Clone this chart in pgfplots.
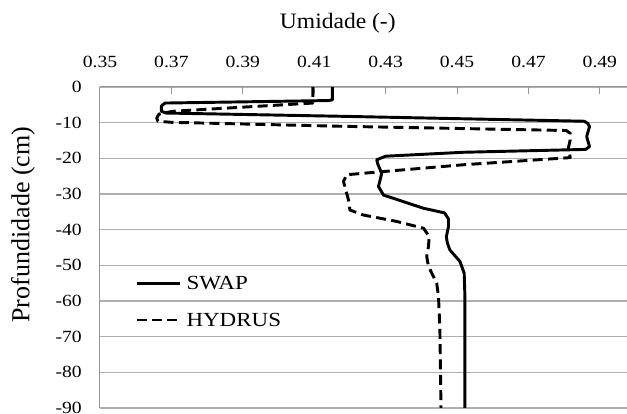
\documentclass[border=0pt]{standalone}
\usepackage{fontspec}
\setmainfont{Liberation Serif}
\usepackage{pgfplots}
\pgfplotsset{compat=1.18}
\definecolor{axisgray}{RGB}{150,150,150}
\definecolor{gridgray}{RGB}{175,175,175}
\pgfplotsset{
  longlegend/.style={legend image code/.code={\draw[##1] (0pt,0pt) -- (32.5pt,0pt);}},
  shortlegend/.style={legend image code/.code={\draw[##1] (0pt,0pt) -- (30.5pt,0pt); \path (32.5pt,0pt);}},
}
\begin{document}
\begin{tikzpicture}
\begin{axis}[name=ax, scale only axis, width=395.25pt, height=240.75pt,
  xmin=0.35, xmax=0.4976, ymin=-90, ymax=0,
  axis x line*=top, axis y line*=left,
  axis line style={draw=axisgray, line width=0.75pt, -},
  xtick={0.35,0.37,0.39,0.41,0.43,0.45,0.47,0.49},
  xticklabels={0.35,0.37,0.39,0.41,0.43,0.45,0.47,0.49},
  ytick={0,-10,-20,-30,-40,-50,-60,-70,-80,-90},
  yticklabels={0,-10,-20,-30,-40,-50,-60,-70,-80,-90},
  tick align=inside, major tick length=5pt,
  xtick style={draw=axisgray, line width=0.75pt},
  ytick style={draw=none},
  ymajorgrids, grid style={draw=gridgray, line width=0.9pt},
  xticklabel style={font=\fontsize{12.8}{14}\selectfont, anchor=base, inner sep=0pt, yshift=14.25pt, xscale=1.15},
  yticklabel style={font=\fontsize{12.8}{14}\selectfont, anchor=east, inner sep=0pt, xshift=-13.5pt, xscale=1.15},
  clip=false,
  legend cell align=left,
  legend style={at={(axis cs:0.3598,-53.1)}, anchor=north west, draw=none, fill=none,
    inner sep=0pt, row sep=17.5pt, column sep=3.75pt,
    font=\fontsize{15}{16}\selectfont,
    nodes={inner sep=0pt, text height=10pt, text depth=0pt, xscale=1.15}},
]
\addplot[black, line width=2.2pt, line join=round, longlegend] coordinates {
(0.4151,0) (0.4151,-3.6) (0.4140,-3.8) (0.3682,-4.5) (0.3672,-5.3) (0.3672,-6.8) (0.3685,-7.3)
(0.4170,-8.2) (0.4856,-9.6) (0.4866,-10.2) (0.4871,-11.1) (0.4863,-13.9) (0.4871,-16.7) (0.4860,-17.5)
(0.4518,-18.3) (0.4300,-19.4) (0.4275,-20.4) (0.4278,-21.6) (0.4289,-24.2) (0.4280,-27.9)
(0.4294,-30.3) (0.4406,-34.0) (0.4465,-35.3) (0.4476,-37.0) (0.4476,-39.1) (0.4470,-42.0)
(0.4473,-43.8) (0.4480,-45.7) (0.4508,-48.9) (0.4520,-52.2) (0.4522,-58.7) (0.4522,-90)
};
\addlegendentry{SWAP}
\addplot[black, line width=2.2pt, dash pattern=on 7.5pt off 4pt, line join=round, shortlegend] coordinates {
(0.4096,0) (0.4096,-4.5) (0.3705,-6.8) (0.3665,-7.6) (0.3659,-8.7) (0.3662,-9.6) (0.3700,-9.9)
(0.4170,-11.0) (0.4806,-12.2) (0.4817,-13.0) (0.4817,-14.8) (0.4812,-17.0) (0.4817,-19.8)
(0.4518,-21.8) (0.4294,-23.7) (0.4191,-24.6) (0.4182,-26.5) (0.4196,-31.7) (0.4200,-34.5)
(0.4238,-35.9) (0.4331,-37.7) (0.4406,-39.6) (0.4422,-41.9) (0.4420,-44.7) (0.4415,-47.5)
(0.4420,-50.3) (0.4443,-55.0) (0.4448,-58.7) (0.4452,-68.0) (0.4455,-90)
};
\addlegendentry{HYDRUS}
\node[font=\fontsize{16.5}{18}\selectfont, anchor=base, xscale=1.07] at (axis cs:0.4166,16.44) {Umidade (-)};
\node[rotate=90, font=\fontsize{19.5}{21}\selectfont] at (axis cs:0.3284,-38.6) {Profundidade (cm)};
\coordinate (bbtl) at (axis cs:0.35,0);
\coordinate (bbbr) at (axis cs:0.4976,-90);
\end{axis}
\pgfresetboundingbox
\path[use as bounding box] ([xshift=-75pt,yshift=65.25pt]bbtl) rectangle ([yshift=-4.5pt]bbbr);
\end{tikzpicture}
\end{document}
